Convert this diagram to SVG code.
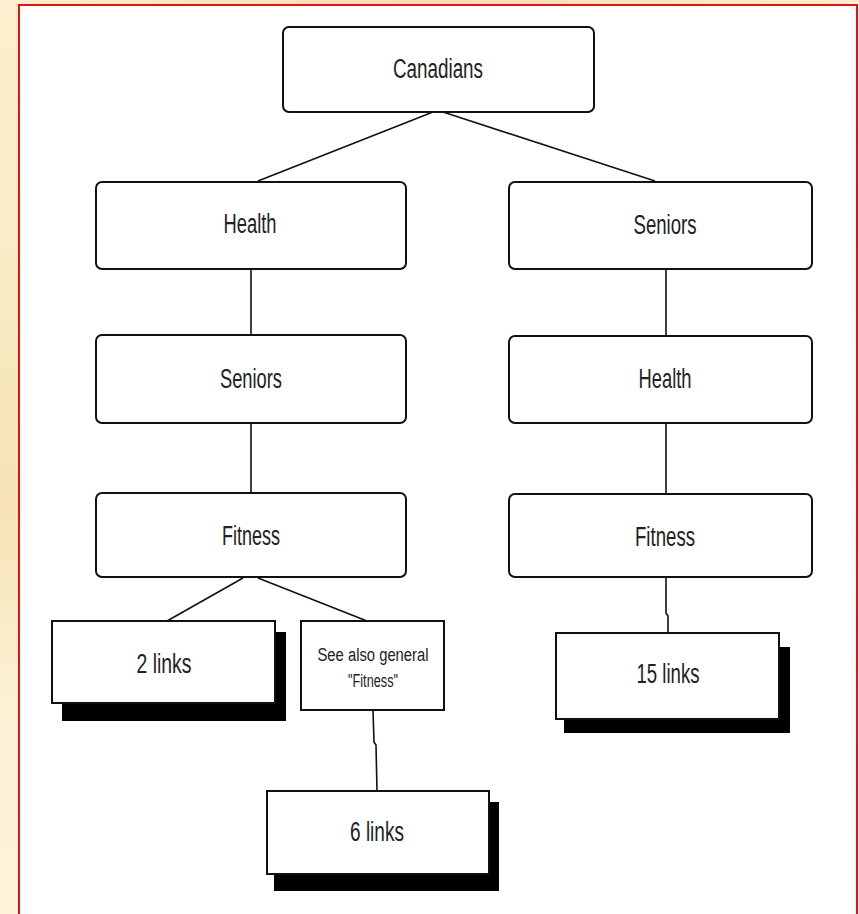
<svg xmlns="http://www.w3.org/2000/svg" width="859" height="914" viewBox="0 0 859 914">
  <defs>
    <linearGradient id="parch" x1="0" y1="0" x2="0" y2="1">
      <stop offset="0" stop-color="#FBEFCF"/>
      <stop offset="0.3" stop-color="#F8EBC4"/>
      <stop offset="0.55" stop-color="#F6E2B4"/>
      <stop offset="0.75" stop-color="#FBF0D2"/>
      <stop offset="1" stop-color="#FDF4DA"/>
    </linearGradient>
    <linearGradient id="parchTop" x1="0" y1="0" x2="1" y2="0">
      <stop offset="0" stop-color="#FBEFCF"/>
      <stop offset="0.5" stop-color="#F7DDB0"/>
      <stop offset="1" stop-color="#FBEFCF"/>
    </linearGradient>
  </defs>
  <style>
    .box { fill: #ffffff; stroke: #111111; stroke-width: 2; }
    .shadow { fill: #000000; }
    .conn { fill: none; stroke: #111111; stroke-width: 1.6; }
    .lbl { font-family: "Liberation Sans", Arial, sans-serif; font-size: 27px; fill: #222222; text-anchor: middle; }
    .small { font-family: "Liberation Sans", Arial, sans-serif; font-size: 18px; fill: #222222; text-anchor: middle; }
  </style>

  <!-- parchment background -->
  <rect x="0" y="0" width="859" height="914" fill="url(#parch)"/>
  <rect x="0" y="0" width="859" height="6" fill="url(#parchTop)"/>

  <!-- white page with red border -->
  <rect x="19" y="5" width="838" height="915" fill="#ffffff" stroke="#E01414" stroke-width="2"/>

  <!-- connectors -->
  <g id="connectors">
    <line class="conn" x1="433" y1="112" x2="258" y2="181"/>
    <line class="conn" x1="443" y1="112" x2="655" y2="181"/>
    <line class="conn" x1="251" y1="269" x2="251" y2="335"/>
    <line class="conn" x1="251" y1="423" x2="251" y2="493"/>
    <line class="conn" x1="666" y1="269" x2="666" y2="336"/>
    <line class="conn" x1="666" y1="423" x2="666" y2="494"/>
    <polyline class="conn" points="666,577 666,613 668,616 668,633"/>
    <line class="conn" x1="243" y1="578" x2="167" y2="621"/>
    <line class="conn" x1="258" y1="578" x2="367" y2="621"/>
    <polyline class="conn" points="373,710 374,742 376,745 377,791"/>
  </g>

  <g id="canadians">
    <rect class="box" x="283" y="27" width="311" height="85" rx="6"/>
    <text class="lbl" x="438" y="78" textLength="90" lengthAdjust="spacingAndGlyphs">Canadians</text>
  </g>

  <g id="health-left">
    <rect class="box" x="96" y="182" width="310" height="87" rx="6"/>
    <text class="lbl" x="250" y="233" textLength="53" lengthAdjust="spacingAndGlyphs">Health</text>
  </g>

  <g id="seniors-right">
    <rect class="box" x="509" y="182" width="303" height="87" rx="6"/>
    <text class="lbl" x="665" y="234" textLength="63" lengthAdjust="spacingAndGlyphs">Seniors</text>
  </g>

  <g id="seniors-left">
    <rect class="box" x="96" y="335" width="310" height="88" rx="6"/>
    <text class="lbl" x="251" y="388" textLength="62" lengthAdjust="spacingAndGlyphs">Seniors</text>
  </g>

  <g id="health-right">
    <rect class="box" x="509" y="336" width="303" height="87" rx="6"/>
    <text class="lbl" x="665" y="388" textLength="53" lengthAdjust="spacingAndGlyphs">Health</text>
  </g>

  <g id="fitness-left">
    <rect class="box" x="96" y="493" width="310" height="84" rx="6"/>
    <text class="lbl" x="251" y="545" textLength="58" lengthAdjust="spacingAndGlyphs">Fitness</text>
  </g>

  <g id="fitness-right">
    <rect class="box" x="509" y="494" width="303" height="83" rx="6"/>
    <text class="lbl" x="665" y="546" textLength="60" lengthAdjust="spacingAndGlyphs">Fitness</text>
  </g>

  <g id="links-2">
    <rect class="shadow" x="62" y="632" width="224" height="89"/>
    <rect class="box" x="52" y="621" width="223" height="82"/>
    <text class="lbl" x="164" y="673" textLength="55" lengthAdjust="spacingAndGlyphs">2 links</text>
  </g>

  <g id="see-also">
    <rect class="box" x="301" y="621" width="143" height="89"/>
    <text class="small" x="373" y="661" textLength="111" lengthAdjust="spacingAndGlyphs">See also general</text>
    <text class="small" x="373" y="687" textLength="50" lengthAdjust="spacingAndGlyphs">"Fitness"</text>
  </g>

  <g id="links-15">
    <rect class="shadow" x="564" y="647" width="226" height="86"/>
    <rect class="box" x="556" y="633" width="223" height="86"/>
    <text class="lbl" x="668" y="683" textLength="63" lengthAdjust="spacingAndGlyphs">15 links</text>
  </g>

  <g id="links-6">
    <rect class="shadow" x="274" y="802" width="225" height="89"/>
    <rect class="box" x="267" y="791" width="222" height="83"/>
    <text class="lbl" x="377" y="841" textLength="54" lengthAdjust="spacingAndGlyphs">6 links</text>
  </g>
</svg>
